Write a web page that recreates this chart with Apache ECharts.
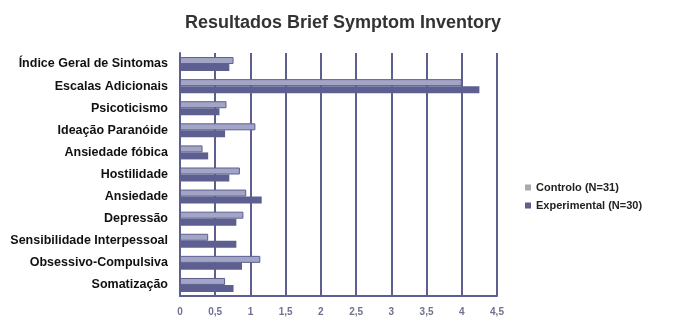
<!DOCTYPE html>
<html>
<head>
<meta charset="utf-8">
<script src="https://cdn.jsdelivr.net/npm/echarts@6/dist/echarts.min.js"></script>
<style>
  html, body { margin: 0; padding: 0; background: #fff; }
  #chart { width: 673px; height: 320px; }
</style>
</head>
<body>
<div id="chart"></div>
<script>
// categories, top to bottom as in the picture
var categories = [
  'Índice Geral de Sintomas',
  'Escalas Adicionais',
  'Psicoticismo',
  'Ideação Paranóide',
  'Ansiedade fóbica',
  'Hostilidade',
  'Ansiedade',
  'Depressão',
  'Sensibilidade Interpessoal',
  'Obsessivo-Compulsiva',
  'Somatização'
];
var controlo = [0.76, 4.0, 0.66, 1.07, 0.32, 0.85, 0.94, 0.9, 0.4, 1.14, 0.64];
var experimental = [0.7, 4.25, 0.56, 0.64, 0.4, 0.7, 1.16, 0.8, 0.8, 0.88, 0.76];
var xTicks = ['0', '0,5', '1', '1,5', '2', '2,5', '3', '3,5', '4', '4,5'];

var lineCol = '#5c5f8f';
var chart = echarts.init(document.getElementById('chart'));
chart.setOption({
  backgroundColor: '#fff',
  animation: false,
  title: {
    text: 'Resultados Brief Symptom Inventory',
    left: 338, top: 9, textAlign: 'center',
    textStyle: {fontFamily: 'Liberation Sans', fontSize: 18, fontWeight: 'bold', color: '#333'}
  },
  legend: {
    orient: 'vertical',
    left: 520, top: 177,
    itemWidth: 6, itemHeight: 6, itemGap: 7,
    textStyle: {fontFamily: 'Liberation Sans', fontSize: 11, fontWeight: 'bold', color: '#222'},
    data: [
      {name: 'Controlo (N=31)', icon: 'rect', itemStyle: {color: '#a9a9b3', borderWidth: 0}},
      {name: 'Experimental (N=30)', icon: 'rect', itemStyle: {color: lineCol}}
    ]
  },
  grid: {left: 180, right: 176, top: 53, bottom: 24},
  xAxis: {
    type: 'value', min: 0, max: 4.5, interval: 0.5,
    axisLine: {show: true, lineStyle: {color: lineCol, width: 2}},
    axisTick: {show: false},
    splitLine: {show: true, lineStyle: {color: lineCol, width: 2}},
    axisLabel: {
      margin: 11,
      fontFamily: 'Liberation Sans', fontSize: 10, fontWeight: 'bold', color: '#6f7290',
      formatter: function (v) { return xTicks[Math.round(v * 2)]; }
    }
  },
  yAxis: {
    type: 'category', inverse: true, data: categories,
    axisLine: {show: true, lineStyle: {color: lineCol, width: 2}},
    axisTick: {show: false},
    axisLabel: {margin: 12, fontFamily: 'Liberation Sans', fontSize: 12.5, fontWeight: 'bold', color: '#111'}
  },
  series: [
    {
      name: 'Controlo (N=31)', type: 'bar', data: controlo,
      barWidth: 7, barGap: '0%',
      itemStyle: {color: '#a3a5c6', borderColor: lineCol, borderWidth: 1}
    },
    {
      name: 'Experimental (N=30)', type: 'bar', data: experimental,
      barWidth: 7, barGap: '0%',
      itemStyle: {color: lineCol}
    }
  ]
});
</script>
</body>
</html>
